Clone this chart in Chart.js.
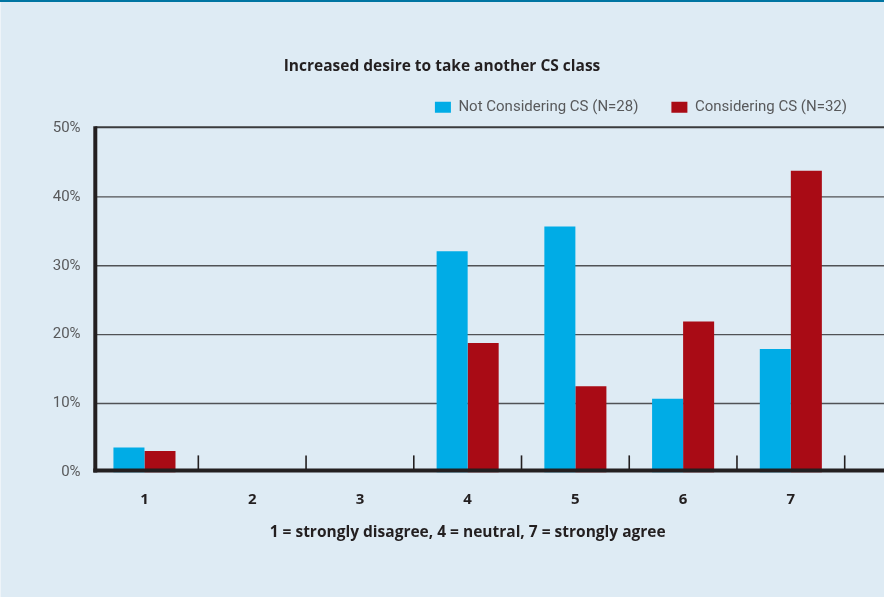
<!DOCTYPE html>
<html>
<head>
<meta charset="utf-8">
<script src="https://cdn.jsdelivr.net/npm/chart.js@4.4.0/dist/chart.umd.min.js"></script>
<style>
  html, body { margin: 0; padding: 0; background: #deebf4; }
  #wrap { position: relative; width: 884px; height: 597px; overflow: hidden; }
  #topRule { position: absolute; left: 0; top: 0; width: 884px; height: 2px; background: #0075a2; }
  #leftRule { position: absolute; left: 0; top: 2px; width: 1px; height: 595px; background: #eef4f9; }
  canvas { display: block; }
</style>
</head>
<body>
<div id="wrap">
  <canvas id="chart" width="884" height="597"></canvas>
  <div id="topRule"></div>
  <div id="leftRule"></div>
</div>
<script>
// Survey answers on a 1–7 scale, share of respondents per answer (%)
const categories = ['1', '2', '3', '4', '5', '6', '7'];
const notConsidering = [3.6, 0, 0, 32.1, 35.7, 10.7, 17.9];
const considering = [3.1, 0, 0, 18.8, 12.5, 21.9, 43.8];
const yTickValues = [0, 10, 20, 30, 40, 50];
const seriesNames = ['Not Considering CS (N=28)', 'Considering CS (N=32)'];

const INK = '#231f20';
const GREY_TEXT = '#58595b';
const BOLD_FAMILY = '"Open Sans", Roboto, sans-serif';

// Grid lines run past the plot to the right edge; axes, and the small
// category dividers sitting on the baseline, are painted over the bars.
const axisStyle = {
  id: 'axisStyle',
  beforeDatasetsDraw(chart) {
    const { ctx, chartArea, scales: { y } } = chart;
    const xStart = chartArea.left + 4.7;
    ctx.save();
    y.ticks.forEach(t => {
      if (t.value === 0) return;
      const py = y.getPixelForValue(t.value);
      const top = t.value === y.max;
      ctx.beginPath();
      ctx.strokeStyle = top ? '#3a3b3d' : '#505255';
      ctx.lineWidth = top ? 2 : 1.4;
      ctx.moveTo(xStart, top ? py - 0.7 : py);
      ctx.lineTo(chart.width, top ? py - 0.7 : py);
      ctx.stroke();
    });
    ctx.restore();
  },
  afterDatasetsDraw(chart) {
    const { ctx, chartArea, scales: { x, y } } = chart;
    const y0 = y.getPixelForValue(0);
    const yTop = y.getPixelForValue(y.max);
    const axisX = chartArea.left + 4.7;
    ctx.save();
    ctx.strokeStyle = INK;
    // category dividers
    ctx.lineWidth = 1.6;
    const n = categories.length;
    for (let i = 1; i <= n; i++) {
      const a = x.getPixelForValue(i - 1);
      const b = i < n ? x.getPixelForValue(i) : a + (a - x.getPixelForValue(i - 2));
      const px = (a + b) / 2;
      ctx.beginPath();
      ctx.moveTo(px, y0 - 17);
      ctx.lineTo(px, y0 - 3);
      ctx.stroke();
    }
    // value axis
    ctx.lineWidth = 4;
    ctx.beginPath();
    ctx.moveTo(axisX, yTop - 1.7);
    ctx.lineTo(axisX, y0);
    ctx.stroke();
    // baseline
    ctx.beginPath();
    ctx.moveTo(axisX - 2, y0 - 2);
    ctx.lineTo(chart.width, y0 - 2);
    ctx.stroke();
    ctx.restore();
  }
};

new Chart(document.getElementById('chart'), {
  type: 'bar',
  data: {
    labels: categories,
    datasets: [
      { label: seriesNames[0], data: notConsidering, backgroundColor: '#00ace6', borderWidth: 0 },
      { label: seriesNames[1], data: considering, backgroundColor: '#a90b15', borderWidth: 0 }
    ]
  },
  options: {
    responsive: false,
    animation: false,
    devicePixelRatio: 1,
    layout: { padding: { left: 4, right: 4, top: 0, bottom: 0 } },
    datasets: { bar: { categoryPercentage: 0.576, barPercentage: 1 } },
    plugins: {
      title: {
        display: true,
        text: 'Increased desire to take another CS class',
        color: INK,
        font: { family: BOLD_FAMILY, size: 15.5, weight: 'bold' },
        padding: { top: 57, bottom: -8.8 }
      },
      legend: {
        display: true,
        position: 'top',
        align: 'end',
        labels: {
          color: GREY_TEXT,
          font: { family: 'Roboto', size: 15 },
          boxWidth: 16,
          boxHeight: 11,
          padding: 33
        }
      },
      tooltip: { enabled: false }
    },
    scales: {
      x: {
        type: 'category',
        grid: { display: false, drawTicks: false },
        border: { display: false },
        ticks: {
          color: INK,
          font: { family: BOLD_FAMILY, size: 15, weight: 'bold' },
          padding: 18
        },
        title: {
          display: true,
          text: '1 = strongly disagree, 4 = neutral, 7 = strongly agree',
          color: INK,
          font: { family: BOLD_FAMILY, size: 15.5, weight: 'bold' },
          padding: { top: -3.5, bottom: 55.5 }
        }
      },
      x2: {
        type: 'category',
        position: 'top',
        display: true,
        grid: { display: false, drawTicks: false },
        border: { display: false },
        ticks: { display: false },
        afterFit(s) { s.height = 3.2; }
      },
      y: {
        type: 'linear',
        min: yTickValues[0],
        max: yTickValues[yTickValues.length - 1],
        afterBuildTicks(s) { s.ticks = yTickValues.map(v => ({ value: v })); },
        grid: { display: false, drawTicks: false },
        border: { display: false },
        ticks: {
          color: GREY_TEXT,
          font: { family: 'Roboto', size: 15 },
          padding: 10,
          callback: v => v + '%'
        },
        afterFit(s) { s.width = 86.6; }
      },
      y2: {
        type: 'linear',
        position: 'right',
        display: true,
        grid: { display: false, drawTicks: false },
        border: { display: false },
        ticks: { display: false },
        afterFit(s) { s.width = 35.3; }
      }
    }
  },
  plugins: [axisStyle]
});
</script>
</body>
</html>
